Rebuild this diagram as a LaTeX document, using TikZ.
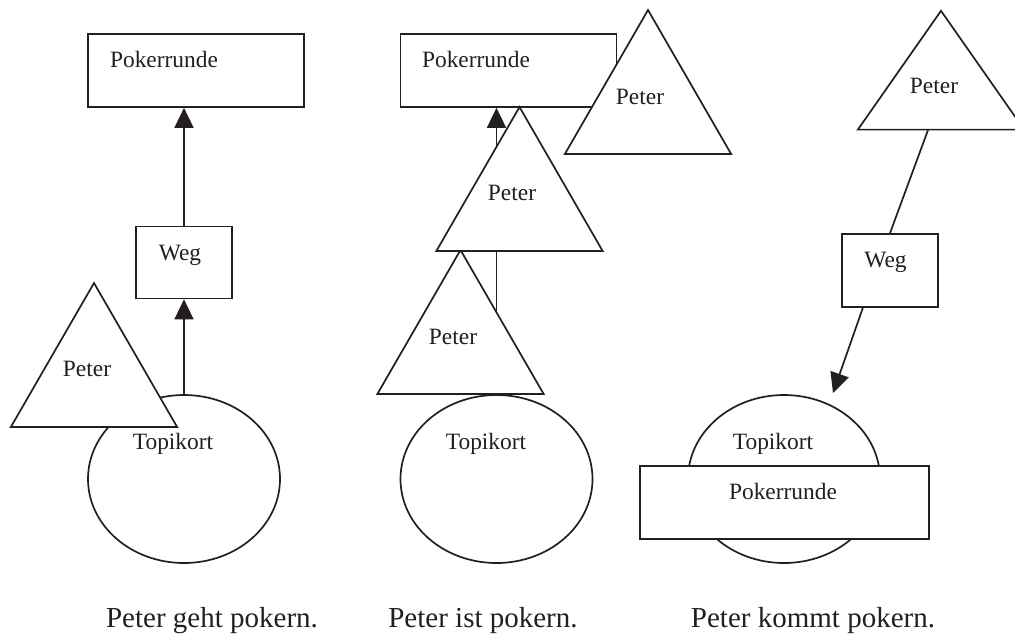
\documentclass[tikz,border=0pt]{standalone}
\usepackage{fontspec}
\setmainfont{Liberation Serif}
\usetikzlibrary{shapes.geometric,arrows.meta}
\definecolor{ink}{HTML}{231F20}

\begin{document}
\begin{tikzpicture}[x=1pt,y=-1pt,color=ink,line width=1.7pt,
  box/.style={draw,fill=white,rectangle,inner sep=0pt},
  tri/.style={draw,fill=white,regular polygon,regular polygon sides=3,minimum size=192pt,inner sep=0pt},
  oval/.style={draw,fill=white,ellipse,minimum width=192pt,minimum height=168pt,inner sep=0pt},
  txt/.style={anchor=base,inner sep=0pt,font=\fontsize{23.4}{28}\selectfont},
  sentence/.style={anchor=base,inner sep=0pt,font=\fontsize{29}{34}\selectfont},
  arr/.style={draw,-{Triangle[width=19pt,length=20pt]}}]
\useasboundingbox (0,0) rectangle (1015,633);

\node[oval] (top1) at (184,479) {};
\node[tri] (pet1) at (94,379) {};
\node[box,minimum width=216pt,minimum height=73pt] (run1) at (196,70.5) {};
\node[box,minimum width=96pt,minimum height=72pt] (weg1) at (184,262.5) {};
\node[txt] (trun1) at (164,67) {Pokerrunde};
\node[txt] (tweg1) at (180,260) {Weg};
\node[txt] (tpet1) at (87,376) {Peter};
\node[txt] (ttop1) at (173,449) {Topikort};

\path[arr] (top1.north) -- (weg1.south);
\path[arr] (weg1.north) -- (weg1.north |- run1.south);

\node[box,minimum width=216pt,minimum height=73pt] (run2) at (508.5,70.5) {};
\node[oval] (top2) at (496.5,479) {};
\path[arr] (top2.north) -- (top2.north |- run2.south);
\node[tri] (pet2c) at (460.5,346) {};
\node[tri] (pet2b) at (519.5,203) {};
\node[tri] (pet2a) at (648,106) {};
\node[txt] (trun2) at (476,67) {Pokerrunde};
\node[txt] (tpet2a) at (640,104) {Peter};
\node[txt] (tpet2b) at (512,200) {Peter};
\node[txt] (tpet2c) at (453,344) {Peter};
\node[txt] (ttop2) at (486,449) {Topikort};

\node[oval] (top3) at (784,479) {};
\node[box,minimum width=289pt,minimum height=73pt] (run3) at (784.5,502.5) {};
\node[tri,yscale=0.825,transform shape] (pet3) at (941,90) {};
\node[box,minimum width=96pt,minimum height=73pt] (weg3) at (890,270.5) {};
\coordinate (foot3) at (928,130);
\coordinate (tip3) at (833,393);
\node[txt] (tpet3) at (934,93) {Peter};
\node[txt] (tweg3) at (885.5,267) {Weg};
\node[txt] (ttop3) at (773,449) {Topikort};
\node[txt] (trun3) at (783,499) {Pokerrunde};

\path[draw] (foot3) -- (weg3.north);
\path[arr] (weg3.234) -- (tip3);

\node[sentence] (cap1) at (212,627) {Peter geht pokern.};
\node[sentence] (cap2) at (483,627) {Peter ist pokern.};
\node[sentence] (cap3) at (813,627) {Peter kommt pokern.};
\end{tikzpicture}
\end{document}
